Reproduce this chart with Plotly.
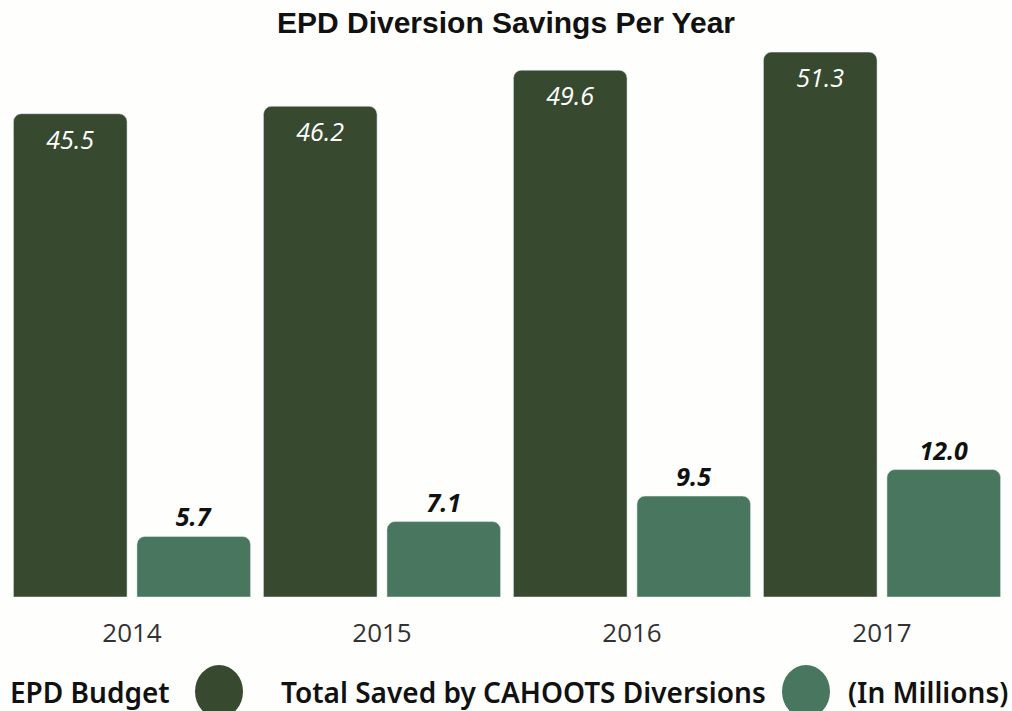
import plotly.graph_objects as go

years = ["2014", "2015", "2016", "2017"]
epd_budget = [45.5, 46.2, 49.6, 51.3]
cahoots_saved = [5.7, 7.1, 9.5, 12.0]

dark = "#374A30"
green = "#48765E"

fig = go.Figure()
fig.add_trace(go.Bar(
    x=years, y=epd_budget, name="EPD Budget",
    marker=dict(color=dark, cornerradius=8),
    text=[f"{v:.1f}" for v in epd_budget],
    textposition="inside", insidetextanchor="end",
    textfont=dict(family="Open Sans", size=25, color="white", style="italic"),
    showlegend=False,
))
fig.add_trace(go.Bar(
    x=years, y=cahoots_saved, name="Total Saved by CAHOOTS Diversions (In Millions)",
    marker=dict(color=green, cornerradius=8),
    text=[f"{v:.1f}" for v in cahoots_saved],
    textposition="outside",
    textfont=dict(family="Open Sans", size=25, color="#111111", style="italic", weight="bold"),
    cliponaxis=False,
    showlegend=False,
))

W, Hpx = 1012, 711
ML, MR, MT, MB = 7, 5, 50, 114

fig.update_layout(
    width=W, height=Hpx,
    paper_bgcolor="#FEFEFC", plot_bgcolor="#FEFEFC",
    margin=dict(l=ML, r=MR, t=MT, b=MB),
    barmode="group", bargap=0.012, bargroupgap=0.08,
    title=dict(text="<b>EPD Diversion Savings Per Year</b>", x=0.5, xanchor="center", y=0.983, yanchor="top",
               font=dict(family="Liberation Sans", size=30, color="#111111")),
    xaxis=dict(showgrid=False, showline=False, zeroline=False, ticks="", ticklabelstandoff=18,
               tickfont=dict(family="Open Sans", size=26, color="#333333")),
    yaxis=dict(range=[0, 51.5], visible=False),
    showlegend=False,
)

# Legend row (text labels and swatches) in paper coordinates
H = Hpx - MT - MB
def py(pix):
    return (Hpx - MB - pix) / H
def px(pix):
    return (pix - ML) / (W - ML - MR)

legend_font = dict(family="Noto Sans", size=28, color="#111111", weight=600)
fig.add_annotation(text="EPD Budget", x=px(8), y=py(692), xref="paper", yref="paper", showarrow=False,
                   xanchor="left", yanchor="middle", font=legend_font)
fig.add_annotation(text="Total Saved by CAHOOTS Diversions", x=px(279), y=py(692), xref="paper", yref="paper",
                   showarrow=False, xanchor="left", yanchor="middle", font=legend_font)
fig.add_annotation(text="(In Millions)", x=px(1010), y=py(692), xref="paper", yref="paper", showarrow=False,
                   xanchor="right", yanchor="middle", font=legend_font)
fig.add_shape(type="circle", xref="paper", yref="paper", x0=px(195), x1=px(243), y0=py(718), y1=py(665),
              fillcolor=dark, line=dict(width=0))
fig.add_shape(type="circle", xref="paper", yref="paper", x0=px(782), x1=px(830), y0=py(718), y1=py(665),
              fillcolor=green, line=dict(width=0))

fig.write_html("out.html", config={"displayModeBar": False},
               post_script="document.body.style.margin='0';document.body.style.overflow='hidden';")
